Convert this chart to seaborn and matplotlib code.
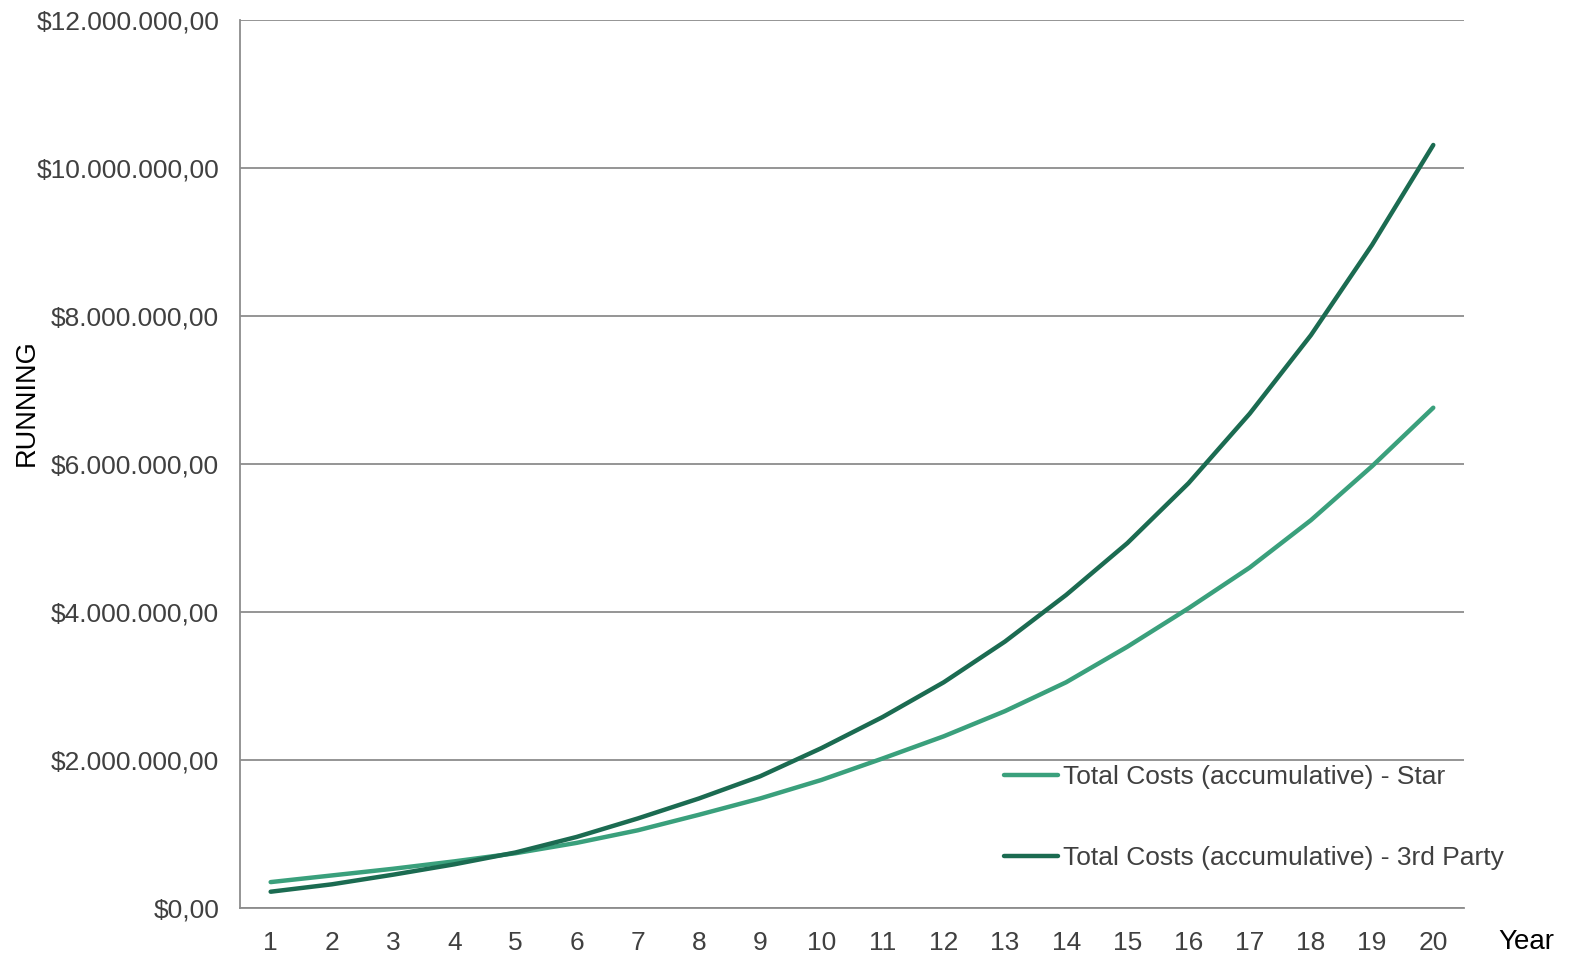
import pandas as pd
import numpy as np
import seaborn as sns
import matplotlib.pyplot as plt
from matplotlib.ticker import FuncFormatter, FixedLocator

years = list(range(1, 21))
star = [0.35, 0.44, 0.53, 0.63, 0.74, 0.88, 1.05, 1.26, 1.48, 1.73,
        2.02, 2.32, 2.66, 3.05, 3.53, 4.05, 4.60, 5.24, 5.97, 6.76]
third = [0.22, 0.32, 0.45, 0.59, 0.75, 0.96, 1.21, 1.48, 1.78, 2.16,
         2.58, 3.05, 3.60, 4.23, 4.93, 5.74, 6.68, 7.74, 8.96, 10.31]
labels = ["Total Costs (accumulative) - Star", "Total Costs (accumulative) - 3rd Party"]
colors = ["#3aa07c", "#1b6b51"]

df = pd.DataFrame({
    "Year": years * 2,
    "Cost": [v * 1e6 for v in star + third],
    "Series": [labels[0]] * 20 + [labels[1]] * 20,
})

sns.set_style("white")
plt.rcParams['font.family'] = ['Liberation Sans', 'DejaVu Sans']

fig = plt.figure(figsize=(15.69, 9.57), dpi=100)
ax = fig.add_axes([0.153, 0.0512, 0.780, 0.928])

sns.lineplot(data=df, x="Year", y="Cost", hue="Series", palette=colors,
             linewidth=3.2, ax=ax, solid_capstyle='round')

ax.set_xlim(0.5, 20.5)
ax.set_ylim(0, 12e6)
ax.set_yticks(np.arange(0, 12.1e6, 2e6))
ax.yaxis.set_major_formatter(FuncFormatter(
    lambda v, p: "$" + f"{v:,.2f}".replace(",", "X").replace(".", ",").replace("X", ".")))
ax.set_xticks(years)
ax.xaxis.set_minor_locator(FixedLocator(np.arange(0.5, 20.6, 1)))
ax.tick_params(axis='x', which='major', length=0, labelsize=19, colors='#404040', pad=16.5)
ax.tick_params(axis='x', which='minor', length=7, width=1.3, color='#8c8c8c', direction='out')
ax.tick_params(axis='y', which='major', length=7, width=1.3, color='#8c8c8c',
               labelsize=19, labelcolor='#404040', pad=8)
ax.yaxis.grid(True, color='#8c8c8c', linewidth=1.3)
ax.xaxis.grid(False)
for s in ['top', 'right']:
    ax.spines[s].set_visible(False)
for s in ['left', 'bottom']:
    ax.spines[s].set_color('#8c8c8c')
    ax.spines[s].set_linewidth(1.3)

ax.set_xlabel("")
ax.set_ylabel("")
fig.text(0.017, 0.579, "RUNNING", fontsize=19.5, color='black', rotation=90,
         ha='center', va='center')
fig.text(0.9726, 0.0157, "Year", fontsize=20, color='black', ha='center', va='center')

leg = ax.legend(loc='upper left', bbox_to_anchor=(0.624, 0.161), frameon=False,
                fontsize=19, handlelength=2.05, handletextpad=0.2, labelspacing=2.15,
                borderpad=0, borderaxespad=0)
for t in leg.get_texts():
    t.set_color('#404040')
for h in leg.get_lines():
    h.set_linewidth(3.2)

fig.savefig("out.png", dpi=100)
